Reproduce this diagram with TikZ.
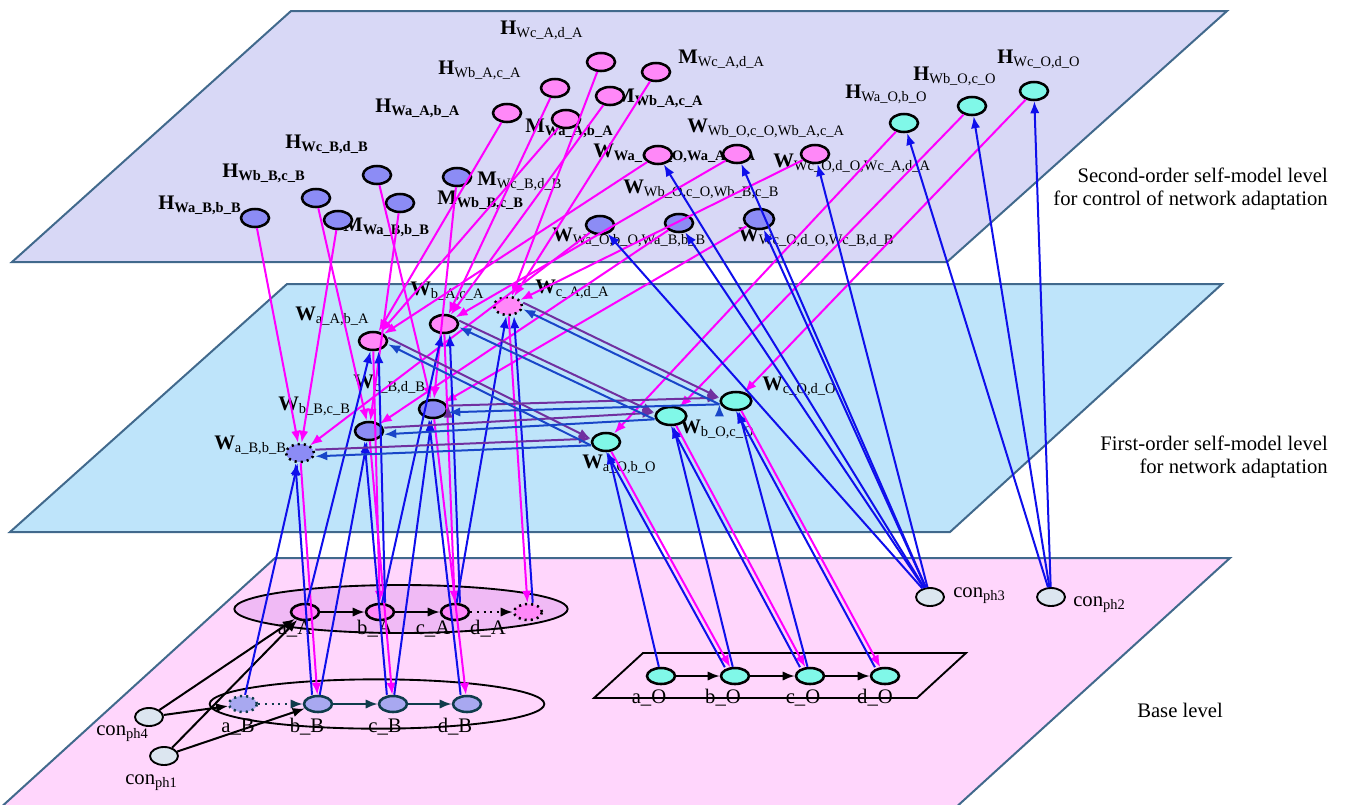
\documentclass[tikz,border=0pt]{standalone}
\usepackage{fontspec}
\setmainfont{Liberation Serif}
\usetikzlibrary{arrows.meta,shapes.geometric}
\definecolor{topplane}{RGB}{216,216,246}
\definecolor{midplane}{RGB}{190,228,250}
\definecolor{baseplane}{RGB}{255,214,252}
\definecolor{planeedge}{RGB}{65,105,140}
\definecolor{pinknode}{RGB}{255,136,248}
\definecolor{bluenode}{RGB}{140,140,245}
\definecolor{lightbluenode}{RGB}{168,168,240}
\definecolor{cyannode}{RGB}{128,248,232}
\definecolor{connode}{RGB}{220,230,240}
\definecolor{groupfill}{RGB}{240,186,245}
\definecolor{tealedge}{RGB}{15,60,75}
\definecolor{linkpink}{RGB}{255,0,255}
\definecolor{upblue}{RGB}{15,15,235}
\definecolor{sideblue}{RGB}{25,70,200}
\definecolor{sidepurple}{RGB}{112,48,160}
\tikzset{
  >={Latex[length=9pt,width=7pt]},
  {plane/.style} ={draw=planeedge, line width=1.5pt},
  {state/.style} ={ellipse, draw, line width=1.9pt, inner sep=0,
                   minimum width=21pt, minimum height=13.5pt},
  {pink state/.style} ={state, fill=pinknode},
  {blue state/.style} ={state, fill=bluenode},
  {cyan state/.style} ={state, fill=cyannode},
  {base state/.style} ={state, fill=lightbluenode, draw=tealedge},
  {con state/.style} ={state, line width=1.4pt, fill=connode},
  {dotted state/.style} ={dash pattern=on 1.6pt off 3pt},
  {group/.style} ={ellipse, draw, line width=1.4pt, inner sep=0},
  {txt/.style} ={font=\fontsize{15.5}{18}\selectfont, inner sep=0},
  {lbl/.style} ={txt, anchor=base west},
  {down link/.style} ={draw, ->, line width=1.5pt, linkpink},
  {up link/.style} ={draw, ->, line width=1.5pt, upblue},
  {back link/.style} ={draw, ->, line width=1.5pt, sideblue},
  {forth link/.style} ={draw, ->, line width=1.5pt, sidepurple},
  {base link/.style} ={draw, ->, line width=1.5pt, black},
}
\begin{document}
\begin{tikzpicture}[x=0.75pt,y=-0.75pt]
\useasboundingbox (0,0) rectangle (1346,804);
\clip (0,0) rectangle (1346,804);
% the three levels
\filldraw[plane, fill=baseplane] (275,558) -- (1230,558) -- (931,830) -- (-24,830) -- cycle;
\filldraw[plane, fill=midplane] (287,284) -- (1222,284) -- (950,532) -- (10,532) -- cycle;
\filldraw[plane, fill=topplane] (291,11) -- (1227,11) -- (947,262) -- (12,262) -- cycle;
\node[txt, anchor=base east] (second1) at (1328,182) {Second-order self-model level};
\node[txt, anchor=base east] (second2) at (1328,205) {for control of network adaptation};
\node[txt, anchor=base east] (first1) at (1328,450) {First-order self-model level};
\node[txt, anchor=base east] (first2) at (1328,473) {for network adaptation};
\node[txt, anchor=base] (baselvl) at (1180,717) {Base level};

% second-order level
\node[lbl] (tHcA) at (500,34) {\textbf{H}\textsubscript{Wc\_A,d\_A}};
\node[lbl] (tHbA) at (438,74) {\textbf{H}\textsubscript{Wb\_A,c\_A}};
\node[lbl] (tHaA) at (375,112) {\textbf{H}\textsubscript{\textbf{Wa\_A,b\_A}}};
\node[lbl] (tHcB) at (285,148) {\textbf{H}\textsubscript{\textbf{Wc\_B,d\_B}}};
\node[lbl] (tHbB) at (222,177) {\textbf{H}\textsubscript{\textbf{Wb\_B,c\_B}}};
\node[lbl] (tHaB) at (158,209) {\textbf{H}\textsubscript{\textbf{Wa\_B,b\_B}}};
\node[lbl] (tMcB) at (477,185) {\textbf{M}\textsubscript{Wc\_B,d\_B}};
\node[lbl] (tMbB) at (437,204) {\textbf{M}\textsubscript{\textbf{Wb\_B,c\_B}}};
\node[lbl] (tMaB) at (343,231) {\textbf{M}\textsubscript{\textbf{Wa\_B,b\_B}}};
\node[lbl] (tMcA) at (678,63) {\textbf{M}\textsubscript{Wc\_A,d\_A}};
\node[lbl] (tMbA) at (615,102) {\textbf{M}\textsubscript{\textbf{Wb\_A,c\_A}}};
\node[lbl] (tMaA) at (525,132) {\textbf{M}\textsubscript{\textbf{Wa\_A,b\_A}}};
\node[lbl] (tWWbA) at (687,132) {\textbf{W}\textsubscript{Wb\_O,c\_O,Wb\_A,c\_A}};
\node[lbl] (tWWaA) at (593,157) {\textbf{W}\textsubscript{\textbf{Wa\_O,b\_O,Wa\_A,b\_A}}};
\node[lbl] (tWWcA) at (773,167) {\textbf{W}\textsubscript{Wc\_O,d\_O,Wc\_A,d\_A}};
\node[lbl] (tWWbB) at (623,193) {\textbf{W}\textsubscript{Wb\_O,c\_O,Wb\_B,c\_B}};
\node[lbl] (tWWaB) at (552,241) {\textbf{W}\textsubscript{Wa\_O,b\_O,Wa\_B,b\_B}};
\node[lbl] (tWWcB) at (738,241) {\textbf{W}\textsubscript{Wc\_O,d\_O,Wc\_B,d\_B}};
\node[lbl] (tHaO) at (845,98) {\textbf{H}\textsubscript{Wa\_O,b\_O}};
\node[lbl] (tHbO) at (913,80) {\textbf{H}\textsubscript{Wb\_O,c\_O}};
\node[lbl] (tHcO) at (997,63) {\textbf{H}\textsubscript{Wc\_O,d\_O}};

\node[blue state] (HaB) at (255,218) {};
\node[blue state] (HbB) at (316,198) {};
\node[blue state] (HcB) at (377,175) {};
\node[blue state] (MaB) at (338,220) {};
\node[blue state] (MbB) at (400,203) {};
\node[blue state] (McB) at (457,177) {};
\node[pink state] (HaA) at (507,113) {};
\node[pink state] (HbA) at (555,88) {};
\node[pink state] (HcA) at (601,62) {};
\node[pink state] (MaA) at (566,119) {};
\node[pink state] (MbA) at (610,96) {};
\node[pink state] (McA) at (656,72) {};
\node[pink state] (WWaA) at (658,155) {};
\node[pink state] (WWbA) at (737,154) {};
\node[pink state] (WWcA) at (815,154) {};
\node[blue state] (WWaB) at (600,225) {};
\node[blue state] (WWbB) at (679,223) {};
\node[blue state, minimum width=22.5pt, minimum height=15pt] (WWcB) at (759,219) {};
\node[cyan state] (HaO) at (904,123) {};
\node[cyan state] (HbO) at (972,106) {};
\node[cyan state] (HcO) at (1034,91) {};

% first-order level
\node[lbl] (tWaA) at (295,320) {\textbf{W}\textsubscript{a\_A,b\_A}};
\node[lbl] (tWbA) at (410,295) {\textbf{W}\textsubscript{b\_A,c\_A}};
\node[lbl] (tWcA) at (535,293) {\textbf{W}\textsubscript{c\_A,d\_A}};
\node[lbl] (tWcB) at (353,388) {\textbf{W}\textsubscript{c\_B,d\_B}};
\node[lbl] (tWbB) at (278,410) {\textbf{W}\textsubscript{b\_B,c\_B}};
\node[lbl] (tWaB) at (214,449) {\textbf{W}\textsubscript{a\_B,b\_B}};
\node[lbl] (tWaO) at (582,468) {\textbf{W}\textsubscript{a\_O,b\_O}};
\node[lbl] (tWbO) at (680,433) {\textbf{W}\textsubscript{b\_O,c\_O}};
\node[lbl] (tWcO) at (762,390) {\textbf{W}\textsubscript{c\_O,d\_O}};

\node[pink state] (WaA) at (373,341) {};
\node[pink state] (WbA) at (444,324) {};
\node[pink state, dotted state] (WcA) at (508,306) {};
\node[blue state, dotted state] (WaB) at (300,453) {};
\node[blue state] (WbB) at (369,431) {};
\node[blue state] (WcB) at (433,409) {};
\node[cyan state] (WaO) at (606,442) {};
\node[cyan state, minimum width=23pt] (WbO) at (671,416) {};
\node[cyan state, minimum width=23pt] (WcO) at (736,401) {};

% base level
\node[group, fill=groupfill, minimum width=250pt, minimum height=36pt] (grpA) at (401,609) {};
\node[group, minimum width=251pt, minimum height=37pt] (grpB) at (377,704) {};
\draw[line width=1.4pt] (643,653) -- (966,653) -- (917,698) -- (594,698) -- cycle;

\node[txt, anchor=base] (taA) at (295,634) {a\_A};
\node[txt, anchor=base] (tbA) at (375,634) {b\_A};
\node[txt, anchor=base] (tcA) at (433,634) {c\_A};
\node[txt, anchor=base] (tdA) at (488,634) {d\_A};
\node[txt, anchor=base] (taB) at (238,732) {a\_B};
\node[txt, anchor=base] (tbB) at (307,732) {b\_B};
\node[txt, anchor=base] (tcB) at (385,732) {c\_B};
\node[txt, anchor=base] (tdB) at (455,732) {d\_B};
\node[txt, anchor=base] (taO) at (649,703) {a\_O};
\node[txt, anchor=base] (tbO) at (723,703) {b\_O};
\node[txt, anchor=base] (tcO) at (803,703) {c\_O};
\node[txt, anchor=base] (tdO) at (875,703) {d\_O};
\node[lbl] (tph4) at (96,735) {con\textsubscript{ph4}};
\node[lbl] (tph1) at (125,784) {con\textsubscript{ph1}};
\node[lbl] (tph3) at (953,597) {con\textsubscript{ph3}};
\node[lbl] (tph2) at (1073,606) {con\textsubscript{ph2}};

\node[pink state, minimum height=12pt] (aA) at (305,612) {};
\node[pink state, minimum height=12pt] (bA) at (380,612) {};
\node[pink state, minimum height=12pt] (cA) at (455,612) {};
\node[pink state, minimum height=12pt, dotted state] (dA) at (528,612) {};
\node[base state, minimum height=12pt, dotted state] (aB) at (243,704) {};
\node[base state, minimum height=12pt] (bB) at (318,704) {};
\node[base state, minimum height=12pt] (cB) at (393,704) {};
\node[base state, minimum height=12pt] (dB) at (467,704) {};
\node[cyan state, minimum height=12pt] (aO) at (661,676) {};
\node[cyan state, minimum height=12pt] (bO) at (735,676) {};
\node[cyan state, minimum height=12pt] (cO) at (810,676) {};
\node[cyan state, minimum height=12pt] (dO) at (885,676) {};
\node[con state] (ph4) at (149,717) {};
\node[con state] (ph1) at (164,756) {};
\node[con state] (ph3) at (930,597) {};
\node[con state] (ph2) at (1051,597) {};

% connections
\path[base link] (aA) edge (bA) (bA) edge (cA)
                 (aO) edge (bO) (bO) edge (cO) (cO) edge (dO)
                 (ph4) edge (aA) edge (aB) (ph1) edge (aA) edge (bB);
\path[base link, dash pattern=on 1.5pt off 3.5pt] (cA) edge (dA);
\path[base link, tealedge] (bB) edge (cB) (cB) edge (dB);
\path[base link, tealedge, dash pattern=on 1.5pt off 3.5pt] (aB) edge (bB);

\path[down link] (HaB) edge (WaB) (MaB) edge (WaB) (WWaB) edge (WaB)
                 (HbB) edge (WbB) (MbB) edge (WbB) (WWbB) edge (WbB)
                 (HcB) edge (WcB) (McB) edge (WcB) (WWcB) edge (WcB)
                 (HaA) edge (WaA) (MaA) edge (WaA) (WWaA) edge (WaA)
                 (HbA) edge (WbA) (MbA) edge (WbA) (WWbA) edge (WbA)
                 (HcA) edge (WcA) (McA) edge (WcA) (WWcA) edge (WcA)
                 (HaO) edge (WaO) (HbO) edge (WbO) (HcO) edge (WcO);
\path[down link] (WaA) edge (bA) (WbA) edge (cA) (WcA) edge (dA)
                 (WaB) edge (bB) (WbB) edge (cB) (WcB) edge (dB)
                 (WaO) edge (bO) (WbO) edge (cO) (WcO) edge (dO);

\path[up link] (aA) edge (WaA) (bA) edge (WbA) (cA) edge (WcA)
               (aB) edge (WaB) (bB) edge (WbB) (cB) edge (WcB)
               (aO) edge (WaO) (bO) edge (WbO) (cO) edge (WcO);
\path[up link, transform canvas={xshift=4pt}] (bA) edge (WaA) (cA) edge (WbA) (dA) edge (WcA);
\path[up link, transform canvas={xshift=-4pt}] (bB) edge (WaB) (cB) edge (WbB) (dB) edge (WcB)
               (bO) edge (WaO) (cO) edge (WbO) (dO) edge (WcO);

\path[up link] (ph3) edge (WWaA) edge (WWbA) edge (WWcA)
                     edge (WWaB) edge (WWbB) edge (WWcB)
               (ph2) edge (HaO) edge (HbO) edge (HcO);

\path[forth link] ([yshift=2.5pt]WaA.east) edge ([yshift=2.5pt]WaO.west)
                  ([yshift=2.5pt]WbA.east) edge ([yshift=2.5pt]WbO.west)
                  ([yshift=2.5pt]WcA.east) edge ([yshift=2.5pt]WcO.west)
                  ([yshift=2.5pt]WaB.east) edge ([yshift=2.5pt]WaO.west)
                  ([yshift=2.5pt]WbB.east) edge ([yshift=2.5pt]WbO.west)
                  ([yshift=2.5pt]WcB.east) edge ([yshift=2.5pt]WcO.west);
\path[back link] ([yshift=-2.5pt]WaO.west) edge ([yshift=-2.5pt]WaA.east)
                 ([yshift=-2.5pt]WbO.west) edge ([yshift=-2.5pt]WbA.east)
                 ([yshift=-2.5pt]WcO.west) edge ([yshift=-2.5pt]WcA.east)
                 ([yshift=-2.5pt]WaO.west) edge ([yshift=-2.5pt]WaB.east)
                 ([yshift=-2.5pt]WbO.west) edge ([yshift=-2.5pt]WbB.east)
                 ([yshift=-2.5pt]WcO.west) edge ([yshift=-2.5pt]WcB.east);
\end{tikzpicture}
\end{document}
